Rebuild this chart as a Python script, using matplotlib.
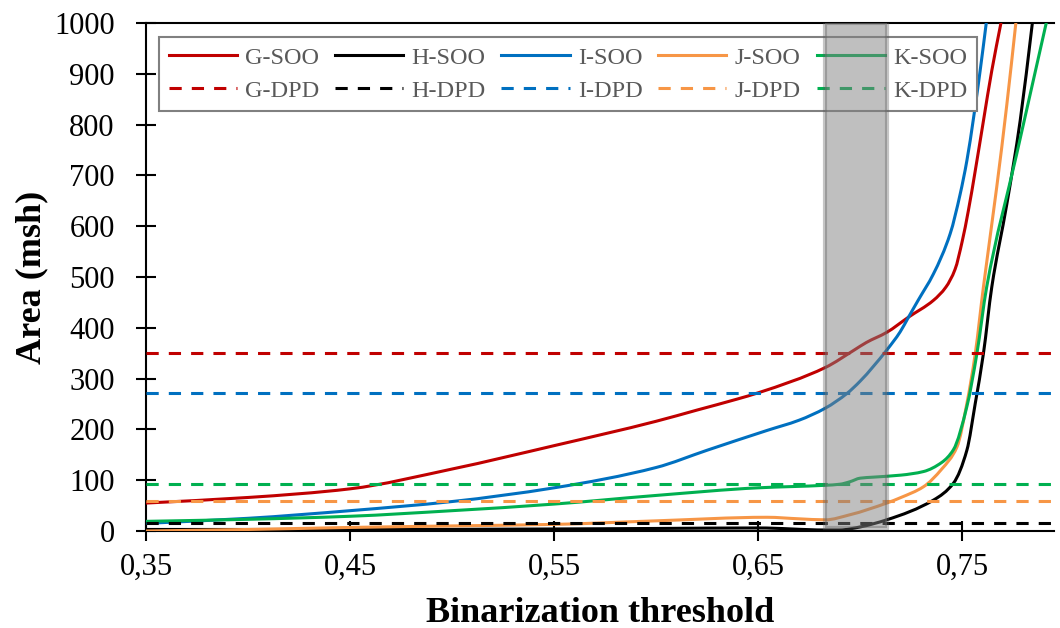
import numpy as np
import matplotlib
matplotlib.use('Agg')
import matplotlib.pyplot as plt
from matplotlib.patches import Rectangle, PathPatch
from matplotlib.path import Path
from matplotlib.lines import Line2D

plt.rcParams['font.family'] = ['Liberation Serif', 'DejaVu Serif']

# SOO curves (threshold, area in msh)
thr_G = [0.35, 0.40, 0.45, 0.50, 0.55, 0.60, 0.62, 0.64, 0.65, 0.683, 0.697, 0.703, 0.713, 0.7237, 0.7359, 0.742, 0.7465, 0.750, 0.753, 0.7564, 0.7604, 0.7645, 0.769]
area_G = [55, 66, 83, 122, 168, 216, 238, 260, 272, 322, 356, 371, 391, 421, 454, 480, 515, 570, 630, 709, 807, 906, 1000]

thr_H = [0.35, 0.45, 0.55, 0.60, 0.65, 0.683, 0.69, 0.70, 0.713, 0.736, 0.7457, 0.7523, 0.7564, 0.7604, 0.7645, 0.7719, 0.7784, 0.7844]
area_H = [3, 3, 4, 5, 6, 2, 2, 8, 22, 61, 94, 159, 251, 349, 480, 644, 807, 1000]

thr_I = [0.35, 0.40, 0.45, 0.50, 0.55, 0.60, 0.625, 0.6544, 0.67, 0.683, 0.6936, 0.70, 0.713, 0.7196, 0.7237, 0.7284, 0.7359, 0.7441, 0.749, 0.7523, 0.7556, 0.7588, 0.7618]
area_I = [15, 25, 40, 58, 85, 125, 159, 198, 218, 242, 271, 295, 356, 392, 421, 454, 506, 585, 663, 729, 814, 906, 1000]

thr_J = [0.35, 0.40, 0.45, 0.50, 0.55, 0.60, 0.6544, 0.67, 0.683, 0.695, 0.713, 0.72, 0.731, 0.74, 0.7474, 0.7523, 0.7564, 0.7604, 0.7669, 0.7719, 0.7763]
area_J = [0, 3, 7, 10, 13, 20, 27, 24, 22, 32, 55, 66, 87, 122, 165, 251, 349, 480, 676, 840, 1000]

thr_K = [0.35, 0.40, 0.45, 0.50, 0.55, 0.60, 0.65, 0.683, 0.69, 0.695, 0.70, 0.7064, 0.72, 0.731, 0.740, 0.7457, 0.7523, 0.7572, 0.762, 0.7766, 0.7912]
area_K = [19, 23, 29, 40, 53, 70, 85, 90, 92, 97, 104, 106, 110, 117, 135, 160, 245, 349, 480, 740, 1000]

# DPD reference areas
dpd = [350, 15, 271, 59, 93]

names = ['G', 'H', 'I', 'J', 'K']
colors = ['#c00000', '#000000', '#0070c0', '#f79646', '#00b050']
soo = [(thr_G, area_G), (thr_H, area_H), (thr_I, area_I), (thr_J, area_J), (thr_K, area_K)]

band = (0.683, 0.713)


def smooth_path(x, y):
    # smoothed line through the points (monotone cubic, drawn as bezier segments)
    x = np.asarray(x, float)
    y = np.asarray(y, float)
    h = np.diff(x)
    d = np.diff(y) / h
    m = np.zeros(len(x))
    m[0], m[-1] = d[0], d[-1]
    for k in range(1, len(x) - 1):
        if d[k - 1] * d[k] > 0:
            w1 = 2 * h[k] + h[k - 1]
            w2 = h[k] + 2 * h[k - 1]
            m[k] = (w1 + w2) / (w1 / d[k - 1] + w2 / d[k])
    verts = [(x[0], y[0])]
    codes = [Path.MOVETO]
    for k in range(len(x) - 1):
        verts += [(x[k] + h[k] / 3, y[k] + m[k] * h[k] / 3),
                  (x[k + 1] - h[k] / 3, y[k + 1] - m[k + 1] * h[k] / 3),
                  (x[k + 1], y[k + 1])]
        codes += [Path.CURVE4] * 3
    return Path(verts, codes)


fig = plt.figure(figsize=(10.6, 6.28), dpi=100)
ax = fig.add_axes([146 / 1060, 1 - 531 / 628, (1054 - 146) / 1060, (531 - 23) / 628])

handles = []
for n, c, (t, a) in zip(names, colors, soo):
    ax.add_patch(PathPatch(smooth_path(t, a), fill=False, edgecolor=c, lw=2.2,
                           capstyle='round', joinstyle='round', zorder=3))
    handles.append(Line2D([], [], color=c, lw=2.2, label=n + '-SOO'))
for n, c, v in zip(names, colors, dpd):
    h = ax.axhline(v, color=c, lw=2.2, ls=(0, (4, 3.3)), label=n + '-DPD', zorder=3)
    handles.append(h)

order = []
for i in range(5):
    order += [handles[i], handles[i + 5]]

ax.add_patch(Rectangle((band[0], 5), band[1] - band[0], 995, facecolor=(0.5, 0.5, 0.5, 0.5),
                       edgecolor=(0.35, 0.35, 0.35, 0.35), lw=3, zorder=7))

ax.set_xlim(0.35, 0.795)
ax.set_ylim(0, 1000)
ax.set_xticks([0.35, 0.45, 0.55, 0.65, 0.75])
ax.set_xticklabels(['0,35', '0,45', '0,55', '0,65', '0,75'])
ax.set_yticks(range(0, 1001, 100))

for s in ['left', 'bottom', 'top']:
    ax.spines[s].set_linewidth(1.5)
ax.spines['right'].set_visible(False)
ax.tick_params(axis='both', direction='inout', length=15, width=1.5, labelsize=22)
ax.tick_params(axis='x', pad=8)
ax.tick_params(axis='y', pad=15)

ax.set_xlabel('Binarization threshold', fontsize=26, fontweight='bold', labelpad=11)
ax.set_ylabel('Area (msh)', fontsize=26, fontweight='bold', labelpad=4)

leg = ax.legend(handles=order, ncol=5, loc='upper left', bbox_to_anchor=(13 / 908, (531 - 37) / 508),
                borderaxespad=0, fontsize=17.5, handlelength=2.8, handletextpad=0.35,
                columnspacing=0.64, labelspacing=0.45, fancybox=False, framealpha=1,
                edgecolor='#808080', borderpad=0.4)
leg.get_frame().set_linewidth(1.5)
for t in leg.get_texts():
    t.set_color('#595959')

fig.savefig('out.png', dpi=100)
